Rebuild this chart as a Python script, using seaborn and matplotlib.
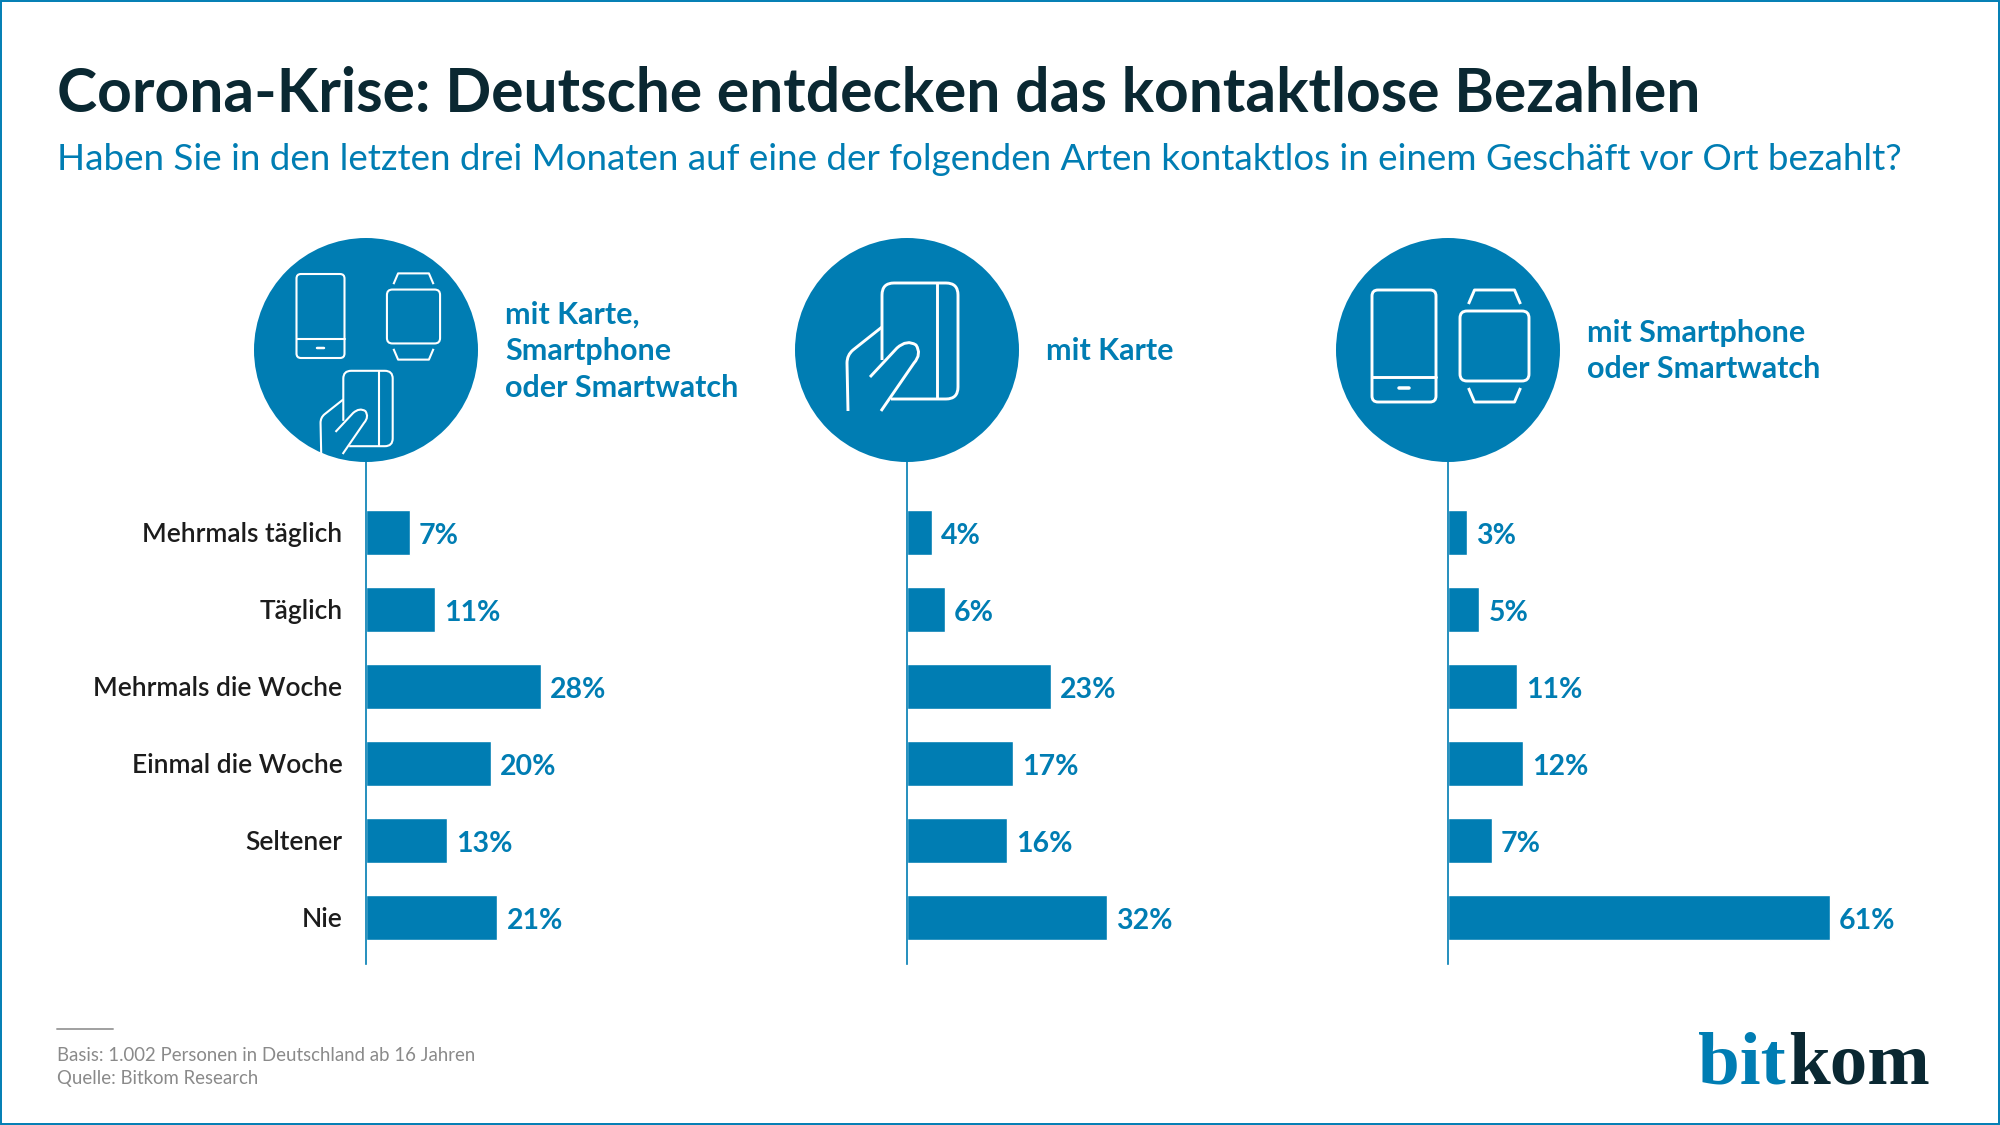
import matplotlib.pyplot as plt
import numpy as np
import seaborn as sns
from matplotlib.patches import Circle, FancyBboxPatch, PathPatch, Rectangle
from matplotlib.path import Path

BLUE = "#007db3"
DARK = "#0a2832"
LABEL = "#1c1c1c"
GREY = "#8a8a8a"
FONT = "Lato"

categories = ["Mehrmals täglich", "Täglich", "Mehrmals die Woche", "Einmal die Woche", "Seltener", "Nie"]
values_all = [7, 11, 28, 20, 13, 21]
values_card = [4, 6, 23, 17, 16, 32]
values_phone = [3, 5, 11, 12, 7, 61]

panel_titles = ["mit Karte,\nSmartphone\noder Smartwatch", "mit Karte", "mit Smartphone\noder Smartwatch"]
title = "Corona-Krise: Deutsche entdecken das kontaktlose Bezahlen"
subtitle = "Haben Sie in den letzten drei Monaten auf eine der folgenden Arten kontaktlos in einem Geschäft vor Ort bezahlt?"
footnote = "Basis: 1.002 Personen in Deutschland ab 16 Jahren\nQuelle: Bitkom Research"

W, H = 2000, 1125
AXIS_X = [366, 907, 1448]
AXIS_TOP, AXIS_BOTTOM = 462, 964
AXIS_W = 600
PX_PER_PCT = 6.26

sns.set_theme(style="white")
plt.rcParams["font.family"] = [FONT, "DejaVu Sans"]

fig = plt.figure(figsize=(W / 100, H / 100), dpi=100, facecolor="white")

# Balken
for i, values in enumerate([values_all, values_card, values_phone]):
    ax = fig.add_axes([AXIS_X[i] / W, 1 - AXIS_BOTTOM / H, AXIS_W / W, (AXIS_BOTTOM - AXIS_TOP) / H])
    ax.patch.set_alpha(0)
    sns.barplot(x=values, y=categories, orient="h", color=BLUE, saturation=1, width=0.585, ax=ax)
    ax.set_xlim(0, AXIS_W / PX_PER_PCT)
    ax.set_ylim(5.61, -0.91)
    ax.set_xlabel("")
    ax.set_ylabel("")
    ax.set_xticks([])
    sns.despine(ax=ax, bottom=True)
    ax.spines["left"].set_color(BLUE)
    ax.spines["left"].set_linewidth(1.2)
    ax.tick_params(axis="y", length=0, pad=17, labelleft=i == 0, labelcolor=LABEL, labelsize=19)
    for lab in ax.get_yticklabels():
        lab.set_fontweight("semibold")
    labels = ax.bar_label(ax.containers[0], fmt="%g%%", padding=7, color=BLUE, fontsize=20.5, fontweight="bold")
    for lab in labels:
        lab.set_position((6.5, -2.8))

# Overlay in Pixelkoordinaten
ov = fig.add_axes([0, 0, 1, 1])
ov.set_xlim(0, W)
ov.set_ylim(H, 0)
ov.axis("off")
ov.patch.set_alpha(0)


def rounded(cx, cy, w, h, r, lw):
    ov.add_patch(FancyBboxPatch((cx - w / 2, cy - h / 2), w, h, boxstyle=f"round,pad=0,rounding_size={r}",
                                fc="none", ec="white", lw=lw, zorder=5))


def polyline(pts, lw, codes=None):
    ov.add_patch(PathPatch(Path(pts, codes), fc="none", ec="white", lw=lw, zorder=5, capstyle="butt", joinstyle="round"))


def phone(cx, cy, s, lw):
    rounded(cx, cy, 64 * s, 112 * s, 6 * s, lw)
    y = cy + 31 * s
    ov.plot([cx - 32 * s, cx + 32 * s], [y, y], color="white", lw=lw, zorder=5)
    y = cy + 42 * s
    ov.plot([cx - 5 * s, cx + 5 * s], [y, y], color="white", lw=lw * 1.2, zorder=5, solid_capstyle="round")


def watch(cx, cy, s, lw):
    rounded(cx, cy, 69 * s, 70 * s, 7 * s, lw)
    for sign in (-1, 1):
        polyline([(cx - 26 * s, cy + sign * 42 * s), (cx - 20 * s, cy + sign * 56 * s),
                  (cx + 20 * s, cy + sign * 56 * s), (cx + 26 * s, cy + sign * 42 * s)], lw)


def card_hand(cx, cy, s, lw):
    def p(pts):
        return [(cx + x * s, cy + y * s) for x, y in pts]
    M, L, C = Path.MOVETO, Path.LINETO, Path.CURVE3
    # Karte
    polyline(p([(-38, 19), (-38, -46), (-38, -58), (-26, -58), (26, -58), (38, -58), (38, -46),
                (38, 46), (38, 58), (26, 58), (-29, 58)]), lw, [M, L, C, C, L, C, C, L, C, C, L])
    polyline(p([(16.7, -58), (16.7, 58)]), lw)
    # Hand
    polyline(p([(-72, 70), (-73, 22), (-73, 14), (-67, 9), (-38, -14)]), lw, [M, L, C, C, L])
    # Finger
    polyline(p([(-50, 36), (-23, 7), (-13, -2), (-4, 4), (2, 13), (-6, 22), (-39, 70)]), lw, [M, L, C, C, C, C, L])


for x in AXIS_X:
    ov.add_patch(Circle((x, 350), 112, fc=BLUE, ec="none", zorder=4))

phone(320.5, 316, 0.75, 1.5)
watch(413.5, 316.5, 0.77, 1.5)
card_hand(368, 408.5, 0.65, 1.5)
card_hand(920, 341, 1, 2.1)
phone(1404, 346, 1, 2.1)
watch(1494.5, 346, 1, 2.1)

for x, t in zip([505, 1046, 1587], panel_titles):
    ov.text(x, 351, t, color=BLUE, fontsize=22, fontweight="bold", va="center", ha="left", linespacing=1.38)

# Überschriften
ov.text(57, 94, title, color=DARK, fontsize=43.6, fontweight="bold", va="center", ha="left")
ov.text(57, 160, subtitle, color=BLUE, fontsize=26.5, va="center", ha="left")

# Fussnote
ov.plot([57, 113], [1029, 1029], color="#a0a0a0", lw=1.4)
ov.text(57, 1067, footnote, color=GREY, fontsize=13.4, va="center", ha="left", linespacing=1.4)

# Logo
ov.text(1698, 1083, "bit", color=BLUE, fontsize=54, fontweight="bold", family="Liberation Serif", va="baseline", ha="left")
ov.text(1788, 1083, "kom", color=DARK, fontsize=54, fontweight="bold", family="Liberation Serif", va="baseline", ha="left")

# Rahmen
ov.add_patch(Rectangle((1, 1), W - 2, H - 2, fc="none", ec=BLUE, lw=1.4, zorder=6))

fig.savefig("out.png", dpi=100)
